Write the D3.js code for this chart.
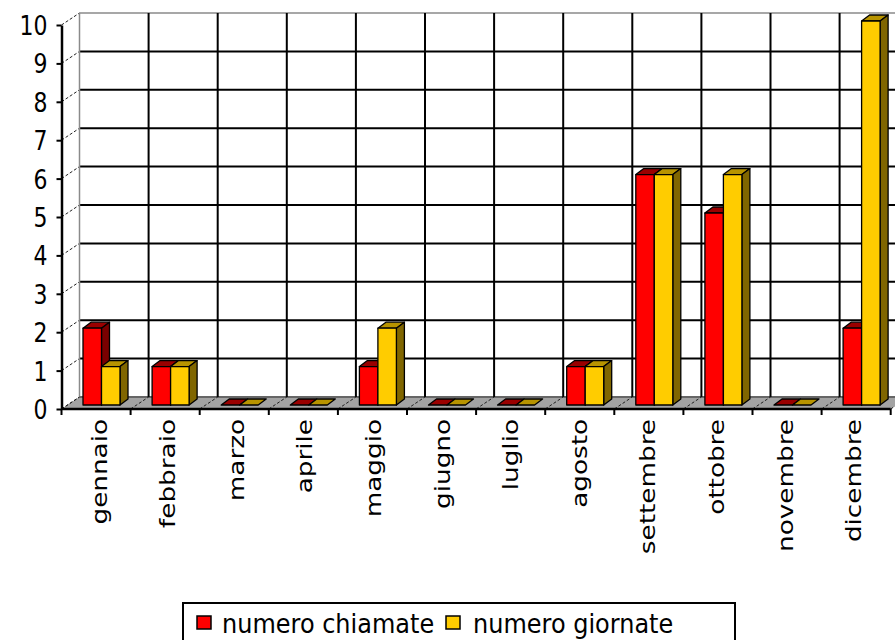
<!DOCTYPE html>
<html>
<head>
<meta charset="utf-8">
<script src="https://cdn.jsdelivr.net/npm/d3@7"></script>
<style>
  html, body { margin: 0; padding: 0; background: #fff; }
  svg { display: block; }
  text { font-family: "DejaVu Sans", sans-serif; fill: #000; }
</style>
</head>
<body>
<svg id="chart" width="895" height="640"></svg>
<script>
const categories = ["gennaio","febbraio","marzo","aprile","maggio","giugno","luglio","agosto","settembre","ottobre","novembre","dicembre"];
const chiamate = [2,1,0,0,1,0,0,1,6,5,0,2];
const giornate = [1,1,0,0,2,0,0,1,6,6,0,10];
const seriesNames = ["numero chiamate","numero giornate"];
const yTickValues = [0,1,2,3,4,5,6,7,8,9,10];

const series = [chiamate, giornate];
const frontColors = ["#ff0000", "#ffcc00"];
const sideColors = ["#7a0000", "#806600"];
const topColors = ["#9a0000", "#b89400"];

const svg = d3.select("#chart");

// projection parameters
const wallDx = 18, wallDy = -12;      // back wall offset
const barDx = 8, barDy = -6;          // bar depth
const barShiftY = -4;                 // bar front face offset from front plane

const x = d3.scaleBand().domain(categories).range([61.5, 61.5 + 12 * 69.1]).padding(0);
const xs = d3.scaleBand().domain([0, 1]).range([21.5, 21.5 + 37]).padding(0);
const y = d3.scaleLinear().domain([0, 10]).range([409, 25]);

const x0 = x.range()[0], x1 = x.range()[1];

// floor
svg.append("polygon")
  .attr("points", [[x0, y(0)], [x1, y(0)], [x1 + wallDx, y(0) + wallDy], [x0 + wallDx, y(0) + wallDy]].map(p => p.join(",")).join(" "))
  .attr("fill", "#a3a3a3");

// back wall gridlines horizontal
const grid = svg.append("g");
yTickValues.forEach(v => {
  grid.append("line")
    .attr("x1", x0 + wallDx).attr("x2", x1 + wallDx)
    .attr("y1", y(v) + wallDy).attr("y2", y(v) + wallDy)
    .attr("stroke", v === 10 ? "#8a8a8a" : (v === 0 ? "#666" : "#000"))
    .attr("stroke-width", v === 10 ? 1.5 : 2);
  grid.append("line")
    .attr("x1", x0).attr("x2", x0 + wallDx)
    .attr("y1", y(v)).attr("y2", y(v) + wallDy)
    .attr("stroke", "#222").attr("stroke-width", 1)
    .attr("stroke-dasharray", "3,2");
});
const bounds = categories.map(c => x(c)).concat([x1]);
bounds.forEach((bx, i) => {
  grid.append("line")
    .attr("x1", bx + wallDx).attr("x2", bx + wallDx)
    .attr("y1", y(10) + wallDy).attr("y2", y(0) + wallDy)
    .attr("stroke", i === 0 ? "#8a8a8a" : "#000")
    .attr("stroke-width", i === 0 ? 1.5 : 2);
  grid.append("line")
    .attr("x1", bx).attr("x2", bx + wallDx)
    .attr("y1", y(0)).attr("y2", y(0) + wallDy)
    .attr("stroke", "#222").attr("stroke-width", 1)
    .attr("stroke-dasharray", "3,2");
});

// bars
const bars = svg.append("g").attr("stroke", "#000").attr("stroke-width", 1.3).attr("stroke-linejoin", "round");
const w = xs.bandwidth();
categories.forEach((c, i) => {
  series.forEach((vals, s) => {
    const v = vals[i];
    const bx = x(c) + xs(s);
    const yt = y(v) + barShiftY;
    const yb = y(0) + barShiftY;
    const pts = a => a.map(p => p.join(",")).join(" ");
    bars.append("polygon")
      .attr("points", pts([[bx, yt], [bx + w, yt], [bx + w + barDx, yt + barDy], [bx + barDx, yt + barDy]]))
      .attr("fill", topColors[s]);
    if (v > 0) {
      bars.append("polygon")
        .attr("points", pts([[bx + w, yt], [bx + w + barDx, yt + barDy], [bx + w + barDx, yb + barDy], [bx + w, yb]]))
        .attr("fill", sideColors[s]);
      bars.append("rect")
        .attr("x", bx).attr("y", yt).attr("width", w).attr("height", yb - yt)
        .attr("fill", frontColors[s]);
    }
  });
});

// y axis
const yAxis = d3.axisLeft(y).tickValues(yTickValues).tickSize(5).tickSizeOuter(0).tickFormat(d3.format("d"));
const ya = svg.append("g").attr("transform", `translate(${x0},0)`).call(yAxis);
ya.select(".domain").attr("stroke", "#000").attr("stroke-width", 2.5);
ya.selectAll(".tick line").attr("stroke", "#000").attr("stroke-width", 2);
ya.selectAll(".tick text")
  .attr("font-family", "DejaVu Sans").attr("font-size", 22)
  .attr("x", null)
  .attr("transform", "translate(-14,0) scale(1,1.2)")
  .attr("dy", "0.36em");

// x axis line and ticks
const xa = svg.append("g");
xa.append("line").attr("x1", x0).attr("x2", x1).attr("y1", y(0)).attr("y2", y(0))
  .attr("stroke", "#000").attr("stroke-width", 2.5);
bounds.forEach(bx => {
  xa.append("line").attr("x1", bx).attr("x2", bx).attr("y1", y(0)).attr("y2", y(0) + 6)
    .attr("stroke", "#000").attr("stroke-width", 2);
});
categories.forEach((c, i) => {
  const cx = x(c) + x.bandwidth() / 2 + 3 - i * 0.5;
  xa.append("text")
    .attr("transform", `translate(${cx},419) rotate(-90) scale(1.25,1)`)
    .attr("text-anchor", "end")
    .attr("dy", "0.36em")
    .attr("font-size", 21)
    .text(c);
});

// legend
const lg = svg.append("g");
lg.append("rect").attr("x", 183).attr("y", 603).attr("width", 552).attr("height", 60)
  .attr("fill", "#fff").attr("stroke", "#000").attr("stroke-width", 2);
const legendItems = [
  { name: seriesNames[0], color: frontColors[0], sx: 197, tx: 222 },
  { name: seriesNames[1], color: frontColors[1], sx: 446, tx: 473 }
];
legendItems.forEach(it => {
  lg.append("rect").attr("x", it.sx).attr("y", 616).attr("width", 14).attr("height", 13)
    .attr("fill", it.color).attr("stroke", "#000").attr("stroke-width", 1.5);
  lg.append("text").attr("transform", `translate(${it.tx},633) scale(1,1.1)`)
    .attr("font-size", 24).text(it.name);
});
</script>
</body>
</html>
